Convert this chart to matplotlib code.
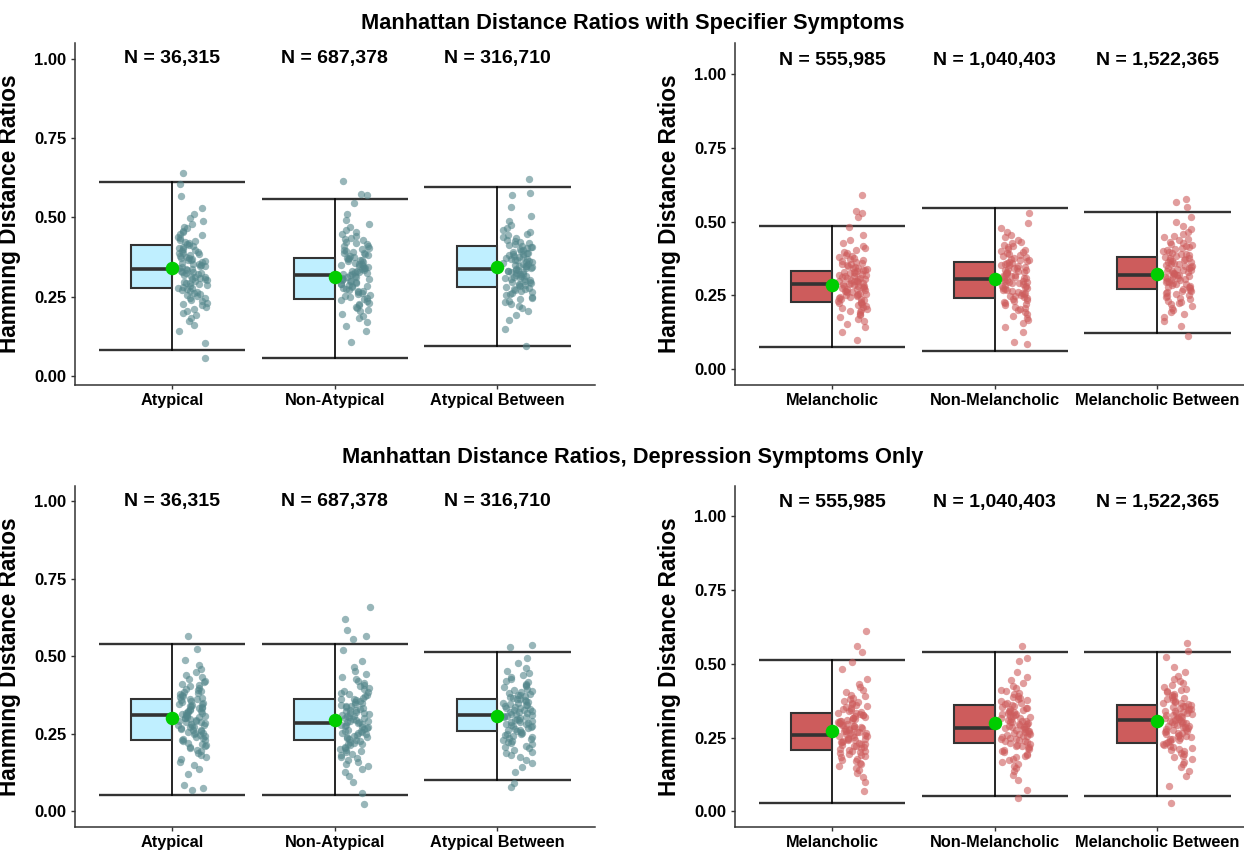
import numpy as np
import matplotlib
matplotlib.use('Agg')
import matplotlib.pyplot as plt
from matplotlib.patches import Rectangle

plt.rcParams['font.family'] = ['Liberation Sans', 'DejaVu Sans']

atyp_labels = ['Atypical', 'Non-Atypical', 'Atypical Between']
mel_labels = ['Melancholic', 'Non-Melancholic', 'Melancholic Between']
atyp_n = ['N = 36,315', 'N = 687,378', 'N = 316,710']
mel_n = ['N = 555,985', 'N = 1,040,403', 'N = 1,522,365']

# lower whisker, q1, median, q3, upper whisker, mean
spec_atyp_stats = [[0.080, 0.277, 0.336, 0.413, 0.610, 0.339],
                   [0.057, 0.242, 0.317, 0.373, 0.557, 0.313],
                   [0.095, 0.280, 0.336, 0.409, 0.595, 0.344]]
spec_mel_stats = [[0.075, 0.226, 0.288, 0.333, 0.485, 0.284],
                  [0.060, 0.242, 0.304, 0.364, 0.546, 0.306],
                  [0.121, 0.272, 0.319, 0.379, 0.532, 0.323]]
dep_atyp_stats = [[0.053, 0.232, 0.310, 0.361, 0.539, 0.302],
                  [0.053, 0.232, 0.284, 0.361, 0.539, 0.295],
                  [0.103, 0.258, 0.310, 0.361, 0.513, 0.309]]
dep_mel_stats = [[0.027, 0.207, 0.259, 0.335, 0.514, 0.271],
                 [0.053, 0.233, 0.284, 0.362, 0.539, 0.299],
                 [0.053, 0.233, 0.311, 0.362, 0.539, 0.305]]

# jittered sample points (ratios)
spec_atypical = [0.103, 0.140, 0.159, 0.172, 0.182, 0.191, 0.199, 0.205, 0.212, 0.217, 0.222, 0.227, 0.231, 0.236, 0.240, 0.244, 0.247, 0.251, 0.254, 0.258, 0.261, 0.264, 0.267, 0.270, 0.273, 0.276, 0.278, 0.281, 0.284, 0.286, 0.289, 0.292, 0.294, 0.297, 0.299, 0.302, 0.304, 0.306, 0.309, 0.311, 0.313, 0.316, 0.318, 0.320, 0.323, 0.325, 0.327, 0.329, 0.332, 0.334,
                 0.567, 0.530, 0.511, 0.498, 0.488, 0.479, 0.471, 0.465, 0.458, 0.453, 0.448, 0.443, 0.439, 0.434, 0.430, 0.426, 0.423, 0.419, 0.416, 0.412, 0.409, 0.406, 0.403, 0.400, 0.397, 0.394, 0.392, 0.389, 0.386, 0.384, 0.381, 0.378, 0.376, 0.373, 0.371, 0.368, 0.366, 0.364, 0.361, 0.359, 0.357, 0.354, 0.352, 0.350, 0.347, 0.345, 0.343, 0.341, 0.338, 0.336,
                 0.055, 0.605, 0.640]
spec_non_atypical = [0.106, 0.141, 0.158, 0.171, 0.181, 0.189, 0.196, 0.203, 0.208, 0.214, 0.218, 0.223, 0.227, 0.231, 0.235, 0.239, 0.242, 0.246, 0.249, 0.252, 0.255, 0.258, 0.261, 0.264, 0.266, 0.269, 0.272, 0.274, 0.277, 0.279, 0.282, 0.284, 0.286, 0.289, 0.291, 0.293, 0.296, 0.298, 0.300, 0.302, 0.305, 0.307, 0.309, 0.311, 0.313, 0.315, 0.318, 0.320, 0.322, 0.324,
                     0.544, 0.509, 0.492, 0.479, 0.469, 0.461, 0.454, 0.447, 0.442, 0.436, 0.432, 0.427, 0.423, 0.419, 0.415, 0.411, 0.408, 0.404, 0.401, 0.398, 0.395, 0.392, 0.389, 0.386, 0.384, 0.381, 0.378, 0.376, 0.373, 0.371, 0.368, 0.366, 0.364, 0.361, 0.359, 0.357, 0.354, 0.352, 0.350, 0.348, 0.345, 0.343, 0.341, 0.339, 0.337, 0.335, 0.332, 0.330, 0.328, 0.326,
                     0.570, 0.575, 0.615]
spec_atyp_between = [0.147, 0.177, 0.193, 0.204, 0.213, 0.220, 0.226, 0.232, 0.237, 0.242, 0.246, 0.250, 0.254, 0.257, 0.261, 0.264, 0.267, 0.270, 0.273, 0.275, 0.278, 0.281, 0.283, 0.286, 0.288, 0.291, 0.293, 0.295, 0.297, 0.300, 0.302, 0.304, 0.306, 0.308, 0.310, 0.312, 0.314, 0.316, 0.318, 0.320, 0.322, 0.324, 0.326, 0.328, 0.330, 0.332, 0.333, 0.335, 0.337, 0.339,
                     0.533, 0.503, 0.487, 0.476, 0.467, 0.460, 0.454, 0.448, 0.443, 0.438, 0.434, 0.430, 0.426, 0.423, 0.419, 0.416, 0.413, 0.410, 0.407, 0.405, 0.402, 0.399, 0.397, 0.394, 0.392, 0.389, 0.387, 0.385, 0.383, 0.380, 0.378, 0.376, 0.374, 0.372, 0.370, 0.368, 0.366, 0.364, 0.362, 0.360, 0.358, 0.356, 0.354, 0.352, 0.350, 0.348, 0.347, 0.345, 0.343, 0.341,
                     0.095, 0.572, 0.578, 0.620]
spec_melancholic = [0.097, 0.127, 0.143, 0.154, 0.163, 0.170, 0.176, 0.182, 0.187, 0.192, 0.196, 0.200, 0.204, 0.207, 0.211, 0.214, 0.217, 0.220, 0.223, 0.225, 0.228, 0.231, 0.233, 0.236, 0.238, 0.241, 0.243, 0.245, 0.247, 0.250, 0.252, 0.254, 0.256, 0.258, 0.260, 0.262, 0.264, 0.266, 0.268, 0.270, 0.272, 0.274, 0.276, 0.278, 0.280, 0.282, 0.283, 0.285, 0.287, 0.289,
                    0.483, 0.453, 0.437, 0.426, 0.417, 0.410, 0.404, 0.398, 0.393, 0.388, 0.384, 0.380, 0.376, 0.373, 0.369, 0.366, 0.363, 0.360, 0.357, 0.355, 0.352, 0.349, 0.347, 0.344, 0.342, 0.339, 0.337, 0.335, 0.333, 0.330, 0.328, 0.326, 0.324, 0.322, 0.320, 0.318, 0.316, 0.314, 0.312, 0.310, 0.308, 0.306, 0.304, 0.302, 0.300, 0.298, 0.297, 0.295, 0.293, 0.291,
                    0.515, 0.530, 0.535, 0.590]
spec_non_melancholic = [0.091, 0.126, 0.143, 0.156, 0.166, 0.174, 0.181, 0.188, 0.193, 0.199, 0.203, 0.208, 0.212, 0.216, 0.220, 0.224, 0.227, 0.231, 0.234, 0.237, 0.240, 0.243, 0.246, 0.249, 0.251, 0.254, 0.257, 0.259, 0.262, 0.264, 0.267, 0.269, 0.271, 0.274, 0.276, 0.278, 0.281, 0.283, 0.285, 0.287, 0.290, 0.292, 0.294, 0.296, 0.298, 0.300, 0.303, 0.305, 0.307, 0.309,
                        0.529, 0.494, 0.477, 0.464, 0.454, 0.446, 0.439, 0.432, 0.427, 0.421, 0.417, 0.412, 0.408, 0.404, 0.400, 0.396, 0.393, 0.389, 0.386, 0.383, 0.380, 0.377, 0.374, 0.371, 0.369, 0.366, 0.363, 0.361, 0.358, 0.356, 0.353, 0.351, 0.349, 0.346, 0.344, 0.342, 0.339, 0.337, 0.335, 0.333, 0.330, 0.328, 0.326, 0.324, 0.322, 0.320, 0.317, 0.315, 0.313, 0.311,
                        0.085]
spec_mel_between = [0.111, 0.146, 0.163, 0.176, 0.186, 0.194, 0.201, 0.208, 0.213, 0.219, 0.223, 0.228, 0.232, 0.236, 0.240, 0.244, 0.247, 0.251, 0.254, 0.257, 0.260, 0.263, 0.266, 0.269, 0.271, 0.274, 0.277, 0.279, 0.282, 0.284, 0.287, 0.289, 0.291, 0.294, 0.296, 0.298, 0.301, 0.303, 0.305, 0.307, 0.310, 0.312, 0.314, 0.316, 0.318, 0.320, 0.323, 0.325, 0.327, 0.329,
                    0.549, 0.514, 0.497, 0.484, 0.474, 0.466, 0.459, 0.452, 0.447, 0.441, 0.437, 0.432, 0.428, 0.424, 0.420, 0.416, 0.413, 0.409, 0.406, 0.403, 0.400, 0.397, 0.394, 0.391, 0.389, 0.386, 0.383, 0.381, 0.378, 0.376, 0.373, 0.371, 0.369, 0.366, 0.364, 0.362, 0.359, 0.357, 0.355, 0.353, 0.350, 0.348, 0.346, 0.344, 0.342, 0.340, 0.337, 0.335, 0.333, 0.331,
                    0.565, 0.575]
dep_atypical = [0.086, 0.121, 0.138, 0.151, 0.161, 0.169, 0.176, 0.183, 0.188, 0.194, 0.198, 0.203, 0.207, 0.211, 0.215, 0.219, 0.222, 0.226, 0.229, 0.232, 0.235, 0.238, 0.241, 0.244, 0.246, 0.249, 0.252, 0.254, 0.257, 0.259, 0.262, 0.264, 0.266, 0.269, 0.271, 0.273, 0.276, 0.278, 0.280, 0.282, 0.285, 0.287, 0.289, 0.291, 0.293, 0.295, 0.298, 0.300, 0.302, 0.304,
                0.524, 0.489, 0.472, 0.459, 0.449, 0.441, 0.434, 0.427, 0.422, 0.416, 0.412, 0.407, 0.403, 0.399, 0.395, 0.391, 0.388, 0.384, 0.381, 0.378, 0.375, 0.372, 0.369, 0.366, 0.364, 0.361, 0.358, 0.356, 0.353, 0.351, 0.348, 0.346, 0.344, 0.341, 0.339, 0.337, 0.334, 0.332, 0.330, 0.328, 0.325, 0.323, 0.321, 0.319, 0.317, 0.315, 0.312, 0.310, 0.308, 0.306,
                0.070, 0.075, 0.565]
dep_non_atypical = [0.058, 0.095, 0.114, 0.127, 0.137, 0.146, 0.154, 0.160, 0.167, 0.172, 0.177, 0.182, 0.186, 0.191, 0.195, 0.199, 0.202, 0.206, 0.209, 0.213, 0.216, 0.219, 0.222, 0.225, 0.228, 0.231, 0.233, 0.236, 0.239, 0.241, 0.244, 0.247, 0.249, 0.252, 0.254, 0.257, 0.259, 0.261, 0.264, 0.266, 0.268, 0.271, 0.273, 0.275, 0.278, 0.280, 0.282, 0.284, 0.287, 0.289,
                    0.522, 0.485, 0.466, 0.453, 0.443, 0.434, 0.426, 0.420, 0.413, 0.408, 0.403, 0.398, 0.394, 0.389, 0.385, 0.381, 0.378, 0.374, 0.371, 0.367, 0.364, 0.361, 0.358, 0.355, 0.352, 0.349, 0.347, 0.344, 0.341, 0.339, 0.336, 0.333, 0.331, 0.328, 0.326, 0.323, 0.321, 0.319, 0.316, 0.314, 0.312, 0.309, 0.307, 0.305, 0.302, 0.300, 0.298, 0.296, 0.293, 0.291,
                    0.025, 0.555, 0.565, 0.585, 0.620, 0.660]
dep_atyp_between = [0.091, 0.126, 0.143, 0.156, 0.166, 0.174, 0.181, 0.188, 0.193, 0.199, 0.203, 0.208, 0.212, 0.216, 0.220, 0.224, 0.227, 0.231, 0.234, 0.237, 0.240, 0.243, 0.246, 0.249, 0.251, 0.254, 0.257, 0.259, 0.262, 0.264, 0.267, 0.269, 0.271, 0.274, 0.276, 0.278, 0.281, 0.283, 0.285, 0.287, 0.290, 0.292, 0.294, 0.296, 0.298, 0.300, 0.303, 0.305, 0.307, 0.309,
                    0.529, 0.494, 0.477, 0.464, 0.454, 0.446, 0.439, 0.432, 0.427, 0.421, 0.417, 0.412, 0.408, 0.404, 0.400, 0.396, 0.393, 0.389, 0.386, 0.383, 0.380, 0.377, 0.374, 0.371, 0.369, 0.366, 0.363, 0.361, 0.358, 0.356, 0.353, 0.351, 0.349, 0.346, 0.344, 0.342, 0.339, 0.337, 0.335, 0.333, 0.330, 0.328, 0.326, 0.324, 0.322, 0.320, 0.317, 0.315, 0.313, 0.311,
                    0.080, 0.535]
dep_melancholic = [0.069, 0.101, 0.118, 0.130, 0.139, 0.147, 0.154, 0.160, 0.165, 0.170, 0.175, 0.179, 0.183, 0.187, 0.190, 0.194, 0.197, 0.200, 0.203, 0.206, 0.209, 0.212, 0.215, 0.217, 0.220, 0.222, 0.225, 0.227, 0.230, 0.232, 0.234, 0.236, 0.239, 0.241, 0.243, 0.245, 0.247, 0.249, 0.252, 0.254, 0.256, 0.258, 0.260, 0.262, 0.264, 0.266, 0.268, 0.270, 0.272, 0.274,
                   0.481, 0.449, 0.432, 0.420, 0.411, 0.403, 0.396, 0.390, 0.385, 0.380, 0.375, 0.371, 0.367, 0.363, 0.360, 0.356, 0.353, 0.350, 0.347, 0.344, 0.341, 0.338, 0.335, 0.333, 0.330, 0.328, 0.325, 0.323, 0.320, 0.318, 0.316, 0.314, 0.311, 0.309, 0.307, 0.305, 0.303, 0.301, 0.298, 0.296, 0.294, 0.292, 0.290, 0.288, 0.286, 0.284, 0.282, 0.280, 0.278, 0.276,
                   0.505, 0.540, 0.560, 0.610]
dep_non_melancholic = [0.071, 0.106, 0.123, 0.136, 0.146, 0.154, 0.161, 0.168, 0.173, 0.179, 0.183, 0.188, 0.192, 0.196, 0.200, 0.204, 0.207, 0.211, 0.214, 0.217, 0.220, 0.223, 0.226, 0.229, 0.231, 0.234, 0.237, 0.239, 0.242, 0.244, 0.247, 0.249, 0.251, 0.254, 0.256, 0.258, 0.261, 0.263, 0.265, 0.267, 0.270, 0.272, 0.274, 0.276, 0.278, 0.280, 0.283, 0.285, 0.287, 0.289,
                       0.509, 0.474, 0.457, 0.444, 0.434, 0.426, 0.419, 0.412, 0.407, 0.401, 0.397, 0.392, 0.388, 0.384, 0.380, 0.376, 0.373, 0.369, 0.366, 0.363, 0.360, 0.357, 0.354, 0.351, 0.349, 0.346, 0.343, 0.341, 0.338, 0.336, 0.333, 0.331, 0.329, 0.326, 0.324, 0.322, 0.319, 0.317, 0.315, 0.313, 0.310, 0.308, 0.306, 0.304, 0.302, 0.300, 0.297, 0.295, 0.293, 0.291,
                       0.045, 0.520, 0.560]
dep_mel_between = [0.086, 0.121, 0.138, 0.151, 0.161, 0.169, 0.176, 0.183, 0.188, 0.194, 0.198, 0.203, 0.207, 0.211, 0.215, 0.219, 0.222, 0.226, 0.229, 0.232, 0.235, 0.238, 0.241, 0.244, 0.246, 0.249, 0.252, 0.254, 0.257, 0.259, 0.262, 0.264, 0.266, 0.269, 0.271, 0.273, 0.276, 0.278, 0.280, 0.282, 0.285, 0.287, 0.289, 0.291, 0.293, 0.295, 0.298, 0.300, 0.302, 0.304,
                   0.524, 0.489, 0.472, 0.459, 0.449, 0.441, 0.434, 0.427, 0.422, 0.416, 0.412, 0.407, 0.403, 0.399, 0.395, 0.391, 0.388, 0.384, 0.381, 0.378, 0.375, 0.372, 0.369, 0.366, 0.364, 0.361, 0.358, 0.356, 0.353, 0.351, 0.348, 0.346, 0.344, 0.341, 0.339, 0.337, 0.334, 0.332, 0.330, 0.328, 0.325, 0.323, 0.321, 0.319, 0.317, 0.315, 0.312, 0.310, 0.308, 0.306,
                   0.030, 0.545, 0.570]

BLUE_BOX = '#BFEFFF'
BLUE_PT = '#53868B'
RED_BOX = '#CD5C5C'
RED_PT = '#CD5C5C'
EDGE = '#333333'


def jitter(n, seed):
    # deterministic horizontal spread in [0, 1)
    k = np.arange(n) + 1.0 + seed * 101.0
    v = np.sin(k * 12.9898 + seed * 78.233) * 43758.5453
    return v - np.floor(v)


def draw_panel(ax, labels, nlabels, stats, points, box_col, pt_col, ylim, xmax, n_y, seed, ylab_x):
    for i in range(3):
        x = i + 1
        lo, q1, med, q3, hi, mean = stats[i]
        ax.plot([x - 0.45, x + 0.45], [lo, lo], color=EDGE, lw=1.7, zorder=2, solid_capstyle='butt')
        ax.plot([x - 0.45, x + 0.45], [hi, hi], color=EDGE, lw=1.7, zorder=2, solid_capstyle='butt')
        ax.plot([x, x], [lo, hi], color='black', lw=1.2, zorder=2)
        ax.add_patch(Rectangle((x - 0.25, q1), 0.25, q3 - q1, facecolor=box_col,
                               edgecolor=EDGE, lw=1.5, zorder=3))
        ax.plot([x - 0.25, x], [med, med], color=EDGE, lw=2.6, zorder=4, solid_capstyle='butt')

        ys = np.array(points[i])
        offs = jitter(len(ys), seed + i)
        ax.scatter(x + 0.035 + 0.18 * offs, ys, s=28, color=pt_col, alpha=0.6,
                   linewidths=0, zorder=5)
        ax.scatter([x], [mean], s=95, color='#00CD00', linewidths=0, zorder=6)
        ax.text(x, n_y, nlabels[i], ha='center', va='center', fontsize=14,
                fontweight='bold', zorder=7)

    ax.set_xlim(0.4, xmax)
    ax.set_ylim(*ylim)
    ax.set_xticks([1, 2, 3])
    ax.set_xticklabels(labels, fontsize=11.7, fontweight='bold')
    ax.set_yticks([0, 0.25, 0.5, 0.75, 1.0])
    ax.set_yticklabels(['0.00', '0.25', '0.50', '0.75', '1.00'], fontsize=12, fontweight='bold')
    ax.tick_params(length=3, width=1, color=EDGE, pad=3)
    for side in ['top', 'right']:
        ax.spines[side].set_visible(False)
    for side in ['left', 'bottom']:
        ax.spines[side].set_color(EDGE)
        ax.spines[side].set_linewidth(1.1)
    ax.set_ylabel('Hamming Distance Ratios', fontsize=16.3, fontweight='bold')
    ax.yaxis.set_label_coords(ylab_x, 0.5)


fig = plt.figure(figsize=(12.44, 8.5), dpi=100)

ax_tl = fig.add_axes([74.5 / 1244, 1 - 385 / 850, 520.5 / 1244, 342 / 850])
ax_tr = fig.add_axes([734.5 / 1244, 1 - 385 / 850, 509.5 / 1244, 342 / 850])
ax_bl = fig.add_axes([74.5 / 1244, 1 - 827 / 850, 520.5 / 1244, 341 / 850])
ax_br = fig.add_axes([734.5 / 1244, 1 - 827 / 850, 509.5 / 1244, 341 / 850])

xmax_r = 0.4 + 509.5 / (520.5 / 3.2)
ylab_l = -(74.5 - 21) / 520.5
ylab_r = -(734.5 - 681) / 509.5

draw_panel(ax_tl, atyp_labels, atyp_n, spec_atyp_stats,
           [spec_atypical, spec_non_atypical, spec_atyp_between],
           BLUE_BOX, BLUE_PT, (-0.029, 1.05), 3.6, 1.0, 0, ylab_l)
draw_panel(ax_tr, mel_labels, mel_n, spec_mel_stats,
           [spec_melancholic, spec_non_melancholic, spec_mel_between],
           RED_BOX, RED_PT, (-0.054, 1.105), xmax_r, 1.047, 3, ylab_r)
draw_panel(ax_bl, atyp_labels, atyp_n, dep_atyp_stats,
           [dep_atypical, dep_non_atypical, dep_atyp_between],
           BLUE_BOX, BLUE_PT, (-0.05, 1.049), 3.6, 1.0, 6, ylab_l)
draw_panel(ax_br, mel_labels, mel_n, dep_mel_stats,
           [dep_melancholic, dep_non_melancholic, dep_mel_between],
           RED_BOX, RED_PT, (-0.053, 1.103), xmax_r, 1.048, 9, ylab_r)

fig.text(633 / 1244, 1 - 23 / 850, 'Manhattan Distance Ratios with Specifier Symptoms',
         ha='center', va='center', fontsize=15.7, fontweight='bold')
fig.text(633 / 1244, 1 - 458 / 850, 'Manhattan Distance Ratios, Depression Symptoms Only',
         ha='center', va='center', fontsize=15.7, fontweight='bold')

fig.savefig('out.png', dpi=100)
